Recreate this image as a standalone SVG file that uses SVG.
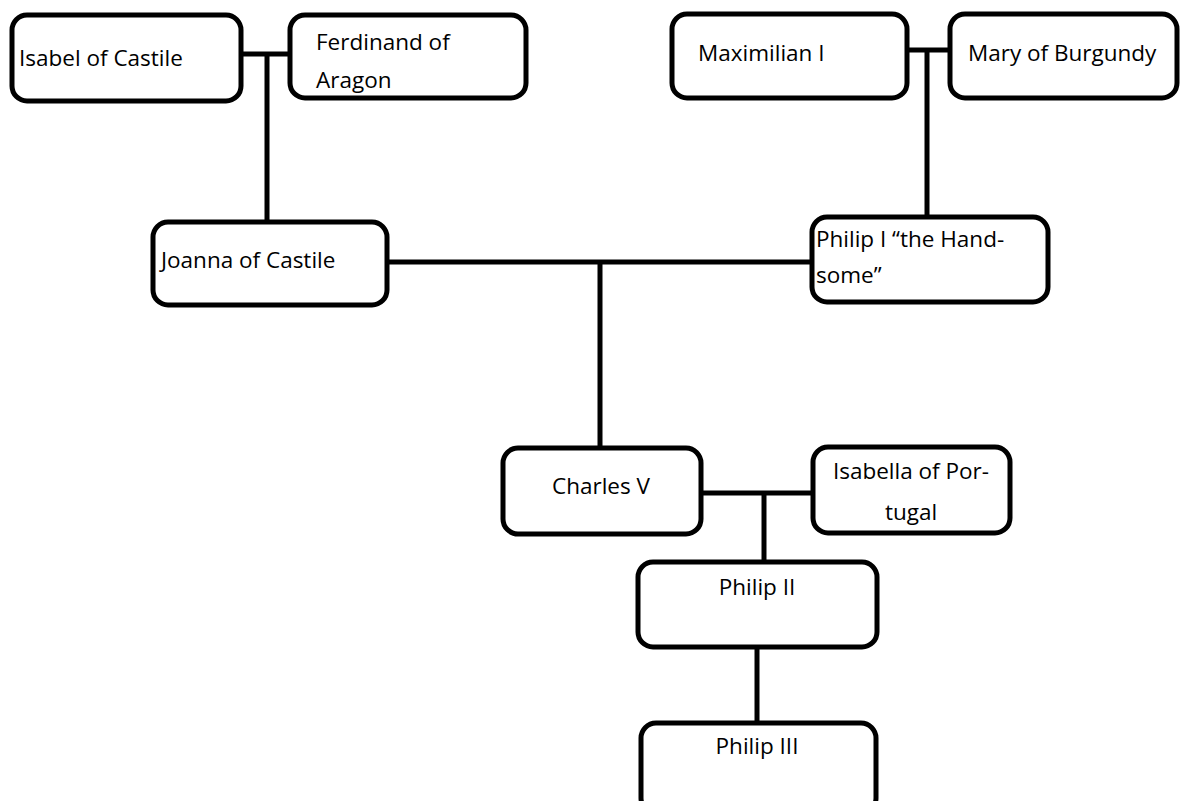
<svg xmlns="http://www.w3.org/2000/svg" width="1180" height="801" viewBox="0 0 1180 801">
<style>
.box{fill:#fff;stroke:#000;stroke-width:5}
.t{font-family:"Open Sans","Liberation Sans",sans-serif;font-size:22.5px;fill:#000}
.c{text-anchor:middle}
.ln{stroke:#000;stroke-width:5;fill:none}
</style>
<rect width="1180" height="801" fill="#fff"/>
<g id="connectors">
<line class="ln" x1="240" y1="54" x2="291" y2="54"/>
<line class="ln" x1="267" y1="54" x2="267" y2="222"/>
<line class="ln" x1="906" y1="50" x2="952" y2="50"/>
<line class="ln" x1="927" y1="50" x2="927" y2="217"/>
<line class="ln" x1="387" y1="262" x2="814" y2="262"/>
<line class="ln" x1="600" y1="262" x2="600" y2="449"/>
<line class="ln" x1="700" y1="493" x2="814" y2="493"/>
<line class="ln" x1="764" y1="493" x2="764" y2="563"/>
<line class="ln" x1="757" y1="647" x2="757" y2="723"/>
</g>
<g id="isabel">
<rect class="box" x="12" y="15" width="229" height="86" rx="15"/>
<text class="t" x="19" y="66">Isabel of Castile</text>
</g>
<g id="ferdinand">
<rect class="box" x="290" y="15" width="236" height="83" rx="15"/>
<text class="t" x="316" y="50">Ferdinand of</text>
<text class="t" x="316" y="88">Aragon</text>
</g>
<g id="maximilian">
<rect class="box" x="672" y="14" width="235" height="84" rx="15"/>
<text class="t" x="698" y="61">Maximilian I</text>
</g>
<g id="mary">
<rect class="box" x="950" y="14" width="227" height="84" rx="15"/>
<text class="t" x="968" y="61">Mary of Burgundy</text>
</g>
<g id="joanna">
<rect class="box" x="153" y="222" width="234" height="83" rx="15"/>
<text class="t" x="161" y="268">Joanna of Castile</text>
</g>
<g id="philip1">
<rect class="box" x="812" y="217" width="236" height="85" rx="15"/>
<text class="t" x="816" y="247">Philip I “the Hand-</text>
<text class="t" x="816" y="283">some”</text>
</g>
<g id="charles">
<rect class="box" x="503" y="448" width="198" height="86" rx="15"/>
<text class="t c" x="601" y="494">Charles V</text>
</g>
<g id="isabella">
<rect class="box" x="813" y="447" width="197" height="86" rx="15"/>
<text class="t c" x="911" y="479">Isabella of Por-</text>
<text class="t c" x="911" y="520">tugal</text>
</g>
<g id="philip2">
<rect class="box" x="638" y="562" width="239" height="85" rx="15"/>
<text class="t c" x="757" y="595">Philip II</text>
</g>
<g id="philip3">
<rect class="box" x="641" y="723" width="235" height="90" rx="15"/>
<text class="t c" x="757" y="754">Philip III</text>
</g>
</svg>
